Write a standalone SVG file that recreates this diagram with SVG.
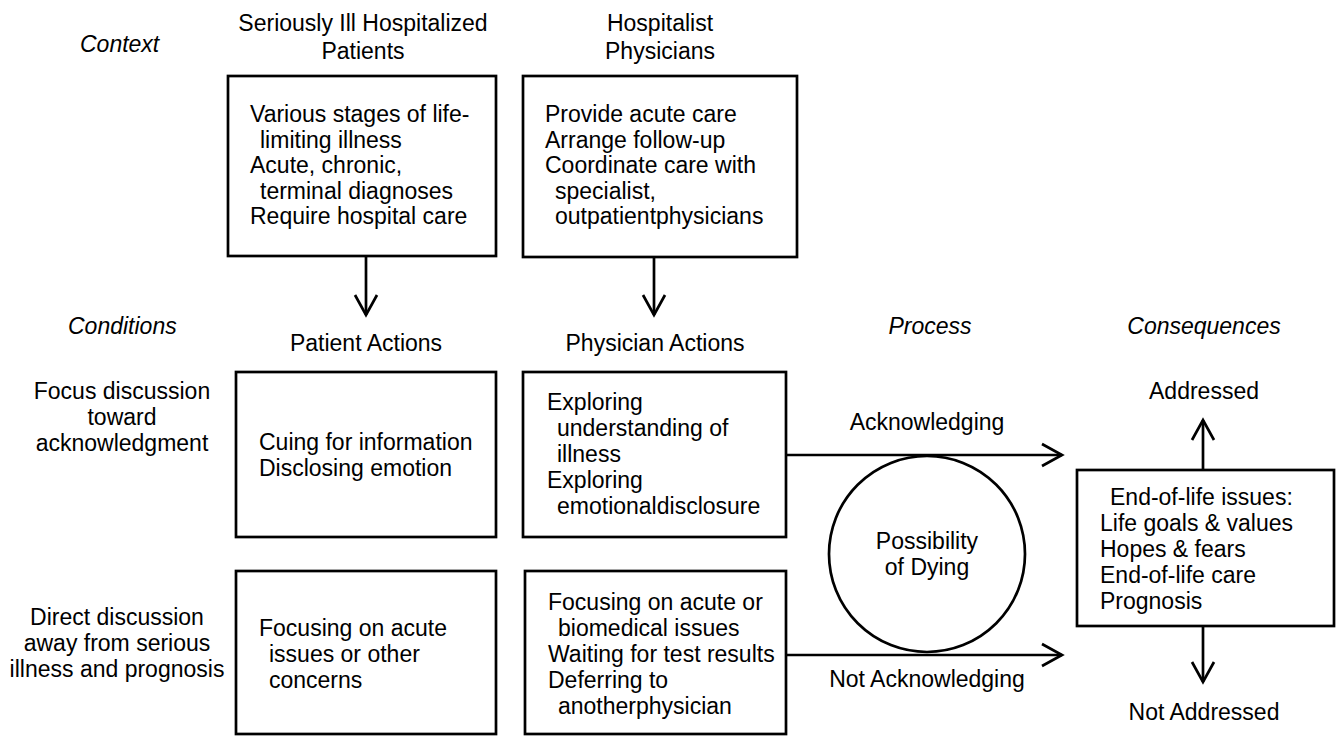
<svg xmlns="http://www.w3.org/2000/svg" width="1337" height="736" viewBox="0 0 1337 736">
<style>
text{font-family:"Liberation Sans",Arial,sans-serif;font-size:23px;fill:#000}
.it{font-style:italic}
.m{text-anchor:middle}
.box{fill:#fff;stroke:#000;stroke-width:2.7}
.ln{fill:none;stroke:#000;stroke-width:2.7}
</style>
<defs>
<marker id="ah" markerUnits="userSpaceOnUse" viewBox="-3 -3 28 28" markerWidth="28" markerHeight="28" refX="20" refY="11" orient="auto">
<path d="M0,0 L20,11 L0,22" fill="none" stroke="#000" stroke-width="2.7"/>
</marker>
</defs>
<rect width="1337" height="736" fill="#fff"/>
<g id="headers">
<text class="it" x="80" y="52">Context</text>
<text class="m" x="363" y="31">Seriously Ill Hospitalized</text>
<text class="m" x="363" y="59">Patients</text>
<text class="m" x="660" y="31">Hospitalist</text>
<text class="m" x="660" y="59">Physicians</text>
<text class="it" x="68" y="334">Conditions</text>
<text class="m" x="366" y="351">Patient Actions</text>
<text class="m" x="655" y="351">Physician Actions</text>
<text class="it m" x="930" y="334">Process</text>
<text class="it m" x="1204" y="334">Consequences</text>
</g>
<g id="cond-focus">
<text class="m" x="122" y="399">Focus discussion</text>
<text class="m" x="122" y="425">toward</text>
<text class="m" x="122" y="451">acknowledgment</text>
</g>
<g id="cond-direct">
<text class="m" x="117" y="625">Direct discussion</text>
<text class="m" x="117" y="651">away from serious</text>
<text class="m" x="117" y="677">illness and prognosis</text>
</g>
<g id="patients-context">
<rect class="box" x="228" y="76" width="268" height="180"/>
<text x="250" y="122">Various stages of life-</text>
<text x="260" y="147.5">limiting illness</text>
<text x="250" y="173">Acute, chronic,</text>
<text x="260" y="198.5">terminal diagnoses</text>
<text x="250" y="224">Require hospital care</text>
</g>
<g id="physicians-context">
<rect class="box" x="523" y="76" width="274" height="181"/>
<text x="545" y="122">Provide acute care</text>
<text x="545" y="147.5">Arrange follow-up</text>
<text x="545" y="173">Coordinate care with</text>
<text x="555" y="198.5">specialist,</text>
<text x="555" y="224">outpatientphysicians</text>
</g>
<g id="patient-ack">
<rect class="box" x="236" y="372" width="260" height="165"/>
<text x="259" y="450">Cuing for information</text>
<text x="259" y="476">Disclosing emotion</text>
</g>
<g id="physician-ack">
<rect class="box" x="523" y="372" width="263" height="165"/>
<text x="547" y="410">Exploring</text>
<text x="557" y="436">understanding of</text>
<text x="557" y="462">illness</text>
<text x="547" y="488">Exploring</text>
<text x="557" y="514">emotionaldisclosure</text>
</g>
<g id="patient-notack">
<rect class="box" x="236" y="571" width="260" height="163"/>
<text x="259" y="636">Focusing on acute</text>
<text x="269" y="662">issues or other</text>
<text x="269" y="688">concerns</text>
</g>
<g id="physician-notack">
<rect class="box" x="525" y="571" width="261" height="163"/>
<text x="548" y="610">Focusing on acute or</text>
<text x="558" y="636">biomedical issues</text>
<text x="548" y="662">Waiting for test results</text>
<text x="548" y="688">Deferring to</text>
<text x="558" y="714">anotherphysician</text>
</g>
<g id="possibility">
<circle class="box" cx="927" cy="554" r="98"/>
<text class="m" x="927" y="549">Possibility</text>
<text class="m" x="927" y="575">of Dying</text>
</g>
<g id="eol-issues">
<rect class="box" x="1077" y="470" width="257" height="156"/>
<text x="1110" y="505">End-of-life issues:</text>
<text x="1100" y="531">Life goals &amp; values</text>
<text x="1100" y="557">Hopes &amp; fears</text>
<text x="1100" y="583">End-of-life care</text>
<text x="1100" y="609">Prognosis</text>
</g>
<g id="outcomes">
<text class="m" x="1204" y="399">Addressed</text>
<text class="m" x="1204" y="720">Not Addressed</text>
</g>
<g id="connectors">
<line class="ln" x1="366" y1="256" x2="366" y2="315" marker-end="url(#ah)"/>
<line class="ln" x1="654" y1="257" x2="654" y2="315" marker-end="url(#ah)"/>
<line class="ln" x1="786" y1="455" x2="1062" y2="455" marker-end="url(#ah)"/>
<line class="ln" x1="786" y1="655" x2="1062" y2="655" marker-end="url(#ah)"/>
<line class="ln" x1="1203" y1="470" x2="1203" y2="420" marker-end="url(#ah)"/>
<line class="ln" x1="1203" y1="626" x2="1203" y2="682" marker-end="url(#ah)"/>
<text class="m" x="927" y="430">Acknowledging</text>
<text class="m" x="927" y="687">Not Acknowledging</text>
</g>
</svg>
